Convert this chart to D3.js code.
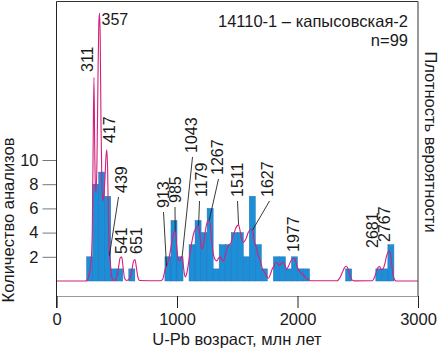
<!DOCTYPE html>
<html>
<head>
<meta charset="utf-8">
<script src="https://cdn.jsdelivr.net/npm/d3@7"></script>
<style>
  body { margin: 0; background: #fff; }
  text { font-family: Arial, "Liberation Sans", sans-serif; fill: #1a1a1a; }
</style>
</head>
<body>
<svg id="chart" width="440" height="350"></svg>
<script>
// Histogram: 50 Ma bins (start age) and number of analyses
const binWidth = 50;
const binStart = [250, 300, 350, 400, 450, 500, 600, 900, 950, 1000,
  1100, 1150, 1200, 1250, 1300, 1350, 1400, 1450, 1500, 1550, 1600, 1650, 1700,
  1800, 1850, 1900, 1950, 2000, 2050, 2400, 2650, 2700, 2750];
const binCount = [2, 8, 9, 7, 1, 1, 1, 2, 5, 2,
  3, 5, 4, 6, 1, 3, 3, 4, 4, 2, 7, 3, 1,
  2, 2, 1, 2, 1, 1, 1, 1, 1, 3];

// Probability density curve (relative units, max = 100)
const pdpAge = [0, 240, 258, 272, 284, 292, 298, 304, 311, 317, 323, 328, 336, 344, 351, 357, 363, 369, 376, 384,
  393, 402, 410, 417, 424, 430, 435, 439, 444, 452, 462, 475, 490, 505, 518, 527, 541, 553, 565, 580,
  610, 625, 640, 651, 663, 675, 690, 860, 880, 895, 905, 913, 925, 940, 955, 970, 985, 998, 1010, 1025,
  1036, 1043, 1052, 1062, 1070, 1082, 1095, 1110, 1125, 1140, 1155, 1170, 1179, 1190, 1205, 1215, 1230, 1245, 1258, 1267,
  1278, 1290, 1302, 1315, 1330, 1345, 1358, 1370, 1384, 1400, 1415, 1430, 1445, 1460, 1475, 1490, 1504, 1511, 1520, 1535,
  1548, 1560, 1575, 1590, 1605, 1615, 1627, 1640, 1655, 1670, 1689, 1710, 1730, 1758, 1775, 1790, 1805, 1820, 1835, 1850,
  1865, 1880, 1895, 1910, 1925, 1940, 1955, 1967, 1977, 1990, 2005, 2020, 2035, 2050, 2070, 2090, 2110, 2330, 2355, 2375,
  2390, 2405, 2420, 2435, 2450, 2470, 2620, 2640, 2655, 2668, 2681, 2695, 2710, 2725, 2740, 2755, 2767, 2780, 2792, 2805,
  2820, 3000];
const pdpValue = [0, 0, 0.5, 2.5, 6, 11, 22, 50, 76, 50, 35, 33, 45, 75, 96, 100, 90, 60, 38, 30,
  32, 38, 46, 49, 42, 25, 13, 9.5, 8, 4, 1, 0.2, 0.5, 2, 6, 8.5, 9, 5, 1, 0.2,
  1, 4, 7.5, 8, 5, 1.5, 0.2, 0.1, 0.5, 3, 5, 5.5, 7, 10, 14, 17.5, 18.5, 13, 8, 7.5,
  9, 9.2, 6, 2.5, 1.5, 3, 6.5, 11, 15, 18, 19.5, 20.5, 20.7, 17, 12, 12.5, 17, 21, 22.5, 22.6,
  20, 14, 10, 8, 7.5, 8.5, 9, 8, 7.5, 9.5, 12, 13.5, 14, 16, 18, 20, 20.8, 21, 19.5, 16,
  14.5, 14.8, 16, 18, 19, 19.2, 19, 15, 13, 10, 7.8, 4.5, 2.9, 1, 2.5, 4.5, 5.5, 7, 6.5, 5.8,
  6.5, 7, 6, 4.5, 5.5, 7, 8.2, 8.5, 8.3, 6.5, 4.5, 3.5, 2.8, 2.2, 1.2, 0.5, 0.1, 0.1, 1.5, 3.5,
  5, 5.5, 4.5, 2, 0.5, 0.05, 0.1, 1.5, 3.5, 5, 5.5, 4.2, 4.5, 6.5, 9.5, 11, 11.2, 7, 2.5, 0.5,
  0, 0];

// Peak ages shown on the curve
const peakAges = [311, 357, 417, 439, 541, 651, 913, 985, 1043, 1179, 1267, 1511, 1627, 1977, 2681, 2767];

const xTicks = [0, 1000, 2000, 3000];
const yTicks = [2, 4, 6, 8, 10];

const sampleTitle = "14110-1 – капысовская-2";
const sampleN = "n=99";

// label placement: centre x of rotated text, bottom y, leader start (or none)
const labelPlace = {
  311: { cx: 87.5, bottom: 72 },
  357: { horizontal: true, x: 101.5, y: 25 },
  417: { cx: 109, bottom: 143 },
  439: { cx: 121.5, bottom: 193, lead: [118.5, 197] },
  541: { cx: 121.5, bottom: 254 },
  651: { cx: 136.5, bottom: 254 },
  913: { cx: 163.5, bottom: 208, lead: [163.5, 212] },
  985: { cx: 175, bottom: 203, lead: [175, 207] },
  1043: { cx: 191, bottom: 153, lead: [192.5, 157] },
  1179: { cx: 201, bottom: 197, lead: [199.5, 201] },
  1267: { cx: 217.5, bottom: 175, lead: [218.5, 179] },
  1511: { cx: 237.5, bottom: 197, lead: [237.5, 201] },
  1627: { cx: 267.5, bottom: 197, lead: [269.5, 201] },
  1977: { cx: 293.5, bottom: 252 },
  2681: { cx: 372.5, bottom: 248 },
  2767: { cx: 384.5, bottom: 242 },
};

const svg = d3.select("#chart");
const FONT = 16.5;
const LABEL_FONT = 16;

const x = d3.scaleLinear().domain([0, 3000]).range([56.5, 418]);
const yCount = d3.scaleLinear().domain([0, 10]).range([281, 160]);
const yDens = d3.scaleLinear().domain([0, 100]).range([281, 13]);

const plotTop = 1.5, axisY = 296;

// bars
svg.append("g")
  .selectAll("rect")
  .data(binStart.map((s, i) => ({ s, c: binCount[i] })))
  .join("rect")
  .attr("x", (d) => x(d.s))
  .attr("width", (d) => x(d.s + binWidth) - x(d.s))
  .attr("y", (d) => yCount(d.c))
  .attr("height", (d) => yCount(0) - yCount(d.c))
  .attr("fill", "#1b8fd8")
  .attr("stroke", "#2a6fb4")
  .attr("stroke-width", 0.5);

// density curve
const pdp = pdpAge.map((a, i) => [a, pdpValue[i]]);
const line = d3.line()
  .x((d) => x(d[0]))
  .y((d) => yDens(d[1]))
  .curve(d3.curveMonotoneX);

svg.append("path")
  .datum(pdp)
  .attr("d", line)
  .attr("fill", "none")
  .attr("stroke", "#d4207c")
  .attr("stroke-width", 1.1);

const densAt = (age) => {
  const i = d3.bisectLeft(pdpAge, age);
  if (pdpAge[i] === age) return pdpValue[i];
  const t = (age - pdpAge[i - 1]) / (pdpAge[i] - pdpAge[i - 1]);
  return pdpValue[i - 1] + t * (pdpValue[i] - pdpValue[i - 1]);
};

// frame
svg.append("path")
  .attr("d", `M${x(0)},${plotTop}H${x(3000)}V${axisY}`)
  .attr("fill", "none")
  .attr("stroke", "#333")
  .attr("stroke-width", 1);

// x axis
const xAxis = svg.append("g")
  .attr("transform", `translate(0,${axisY})`)
  .call(d3.axisBottom(x).tickValues(xTicks).tickSize(12).tickPadding(5).tickFormat(d3.format("d")));
xAxis.select(".domain").attr("stroke", "#999");
xAxis.selectAll(".tick line").attr("stroke", "#222");
xAxis.selectAll("text").attr("font-size", FONT).attr("fill", "#1a1a1a").attr("font-family", null);

// y axis
const yAxis = svg.append("g")
  .attr("transform", `translate(${x(0)},0)`)
  .call(d3.axisLeft(yCount).tickValues(yTicks).tickSize(14).tickPadding(4));
yAxis.select(".domain").remove();
yAxis.selectAll(".tick line").attr("stroke", "#777");
yAxis.selectAll("text").attr("font-size", FONT).attr("fill", "#1a1a1a").attr("font-family", null);

// left spine reaching below the x axis
svg.append("line")
  .attr("x1", x(0)).attr("x2", x(0))
  .attr("y1", plotTop).attr("y2", axisY + 12)
  .attr("stroke", "#222");

// peak labels
const gLab = svg.append("g");
peakAges.forEach((age) => {
  const p = labelPlace[age];
  if (p.horizontal) {
    gLab.append("text").attr("x", p.x).attr("y", p.y).attr("font-size", LABEL_FONT).text(age);
    return;
  }
  gLab.append("text")
    .attr("transform", `translate(${p.cx + 5.8},${p.bottom}) rotate(-90)`)
    .attr("font-size", LABEL_FONT)
    .text(age);
  if (p.lead) {
    gLab.append("line")
      .attr("x1", p.lead[0]).attr("y1", p.lead[1])
      .attr("x2", x(age)).attr("y2", yDens(densAt(age)))
      .attr("stroke", "#222")
      .attr("stroke-width", 0.9);
  }
});

// sample caption
svg.append("text").attr("x", 408).attr("y", 27).attr("text-anchor", "end")
  .attr("font-size", FONT).text(sampleTitle);
svg.append("text").attr("x", 408).attr("y", 46).attr("text-anchor", "end")
  .attr("font-size", FONT).text(sampleN);

// axis titles
svg.append("text").attr("x", 237).attr("y", 345).attr("text-anchor", "middle")
  .attr("font-size", FONT).text("U-Pb возраст, млн лет");
svg.append("text")
  .attr("transform", "translate(14,220) rotate(-90)")
  .attr("text-anchor", "middle")
  .attr("font-size", FONT)
  .text("Количество анализов");
svg.append("text")
  .attr("transform", "translate(425,142) rotate(90)")
  .attr("text-anchor", "middle")
  .attr("font-size", FONT)
  .text("Плотность вероятности");
</script>
</body>
</html>
